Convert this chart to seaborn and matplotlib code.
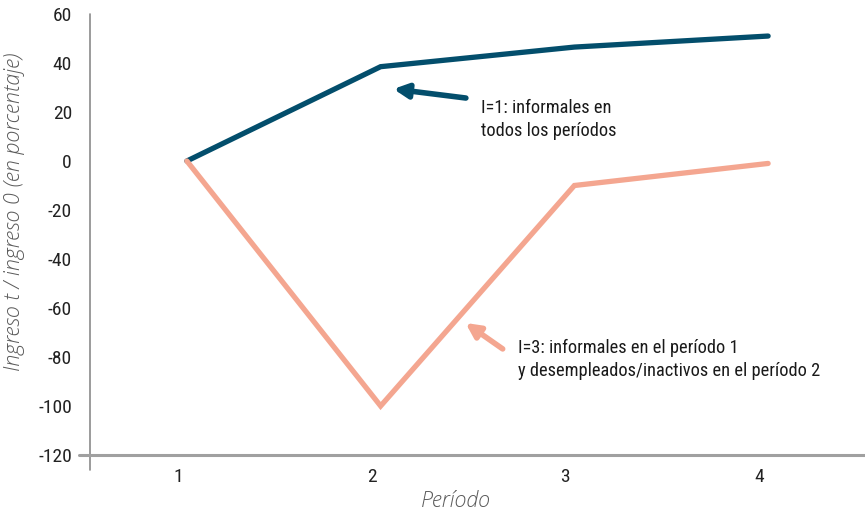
import matplotlib
matplotlib.use("Agg")
import matplotlib.pyplot as plt
import matplotlib.transforms as mtransforms
import seaborn as sns
import pandas as pd
from matplotlib import font_manager

periodos = [1, 2, 3, 4]
informales_todos = [0, 38.5, 46.5, 51]
informales_desempleados = [0, -100, -10, -1]
yticks = [60, 40, 20, 0, -20, -40, -60, -80, -100, -120]

sns.set_theme(style="white")
names = {f.name for f in font_manager.fontManager.ttflist}
narrow = "Liberation Sans Narrow" if "Liberation Sans Narrow" in names else "Roboto Condensed" if "Roboto Condensed" in names else "Liberation Sans"
plt.rcParams["font.family"] = [narrow, "DejaVu Sans"]
etiqueta = ["Open Sans", "DejaVu Sans"]

df = pd.DataFrame({
    "periodo": periodos * 2,
    "valor": informales_todos + informales_desempleados,
    "grupo": ["I=1"] * 4 + ["I=3"] * 4,
})

fig = plt.figure(figsize=(8.65, 5.16), dpi=100)
ax = fig.add_axes([90 / 865, 1 - 455 / 516, 775 / 865, 441 / 516])

azul = "#034e6c"
rosa = "#f4a690"
sns.lineplot(data=df, x="periodo", y="valor", hue="grupo", palette=[azul, rosa],
             linewidth=3.8, ax=ax, legend=False, solid_capstyle="round", solid_joinstyle="miter")

ax.set_xlim(0.5, 4.5)
ax.set_ylim(-120, 60)
ax.set_yticks(yticks)
ax.set_yticklabels([str(v) for v in yticks], fontsize=14, color="#222222")
ax.set_xticks(periodos)
ax.set_xticklabels([str(p) for p in periodos], fontsize=14, color="#222222")
ax.tick_params(axis="both", length=0)
ax.tick_params(axis="y", pad=13)
ax.tick_params(axis="x", pad=9)
# period labels sit a little left of the points
shift = mtransforms.ScaledTranslation(-9 / 100, 0, fig.dpi_scale_trans)
for lab in ax.get_xticklabels():
    lab.set_transform(lab.get_transform() + shift)

for s in ax.spines.values():
    s.set_visible(False)
# vertical axis line, running slightly past the baseline
ax.plot([0, 0], [-0.035, 1.0], transform=ax.transAxes, color="#8a8a8a", lw=1.2, clip_on=False)
# baseline at -120
ax.plot([-0.014, 1.0], [0, 0], transform=ax.transAxes, color="#a0a0a0", lw=2.2, clip_on=False)

ax.set_xlabel("Período", fontsize=15.5, color="#5a5a5a", style="italic", fontweight="light",
              family=etiqueta)
ax.xaxis.set_label_coords(0.472, -0.08)
ax.set_ylabel("Ingreso t / ingreso 0 (en porcentaje)", fontsize=15.5, color="#5a5a5a",
              style="italic", fontweight="light", family=etiqueta)
ax.yaxis.set_label_coords(-0.084, 0.551)

ax.annotate("", xy=(2.066, 29.4), xytext=(2.44, 25.7),
            arrowprops=dict(arrowstyle="-|>,head_length=0.7,head_width=0.35", color=azul, lw=4,
                            shrinkA=0, shrinkB=0))
ax.text(2.516, 25.5, "I=1: informales en\ntodos los períodos", fontsize=13.2,
        color="#1a1a1a", va="top", ha="left", linespacing=1.4)

ax.annotate("", xy=(2.438, -66.1), xytext=(2.63, -76.7),
            arrowprops=dict(arrowstyle="-|>,head_length=0.7,head_width=0.35", color=rosa, lw=4,
                            shrinkA=0, shrinkB=0))
ax.text(2.707, -72.5, "I=3: informales en el período 1\ny desempleados/inactivos en el período 2",
        fontsize=13.2, color="#1a1a1a", va="top", ha="left", linespacing=1.4)

fig.savefig("out.png", dpi=100)
